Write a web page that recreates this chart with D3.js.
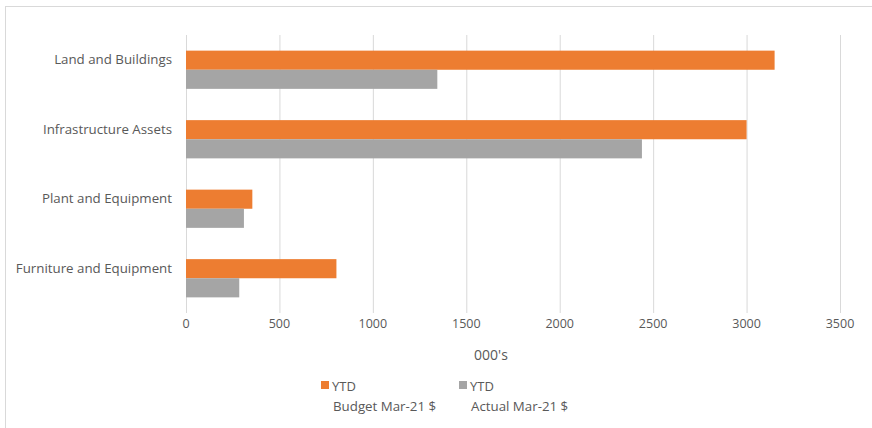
<!DOCTYPE html>
<html>
<head>
<meta charset="utf-8">
<script src="https://cdn.jsdelivr.net/npm/d3@7"></script>
<style>
  body { margin: 0; background: #fff; }
  svg text { font-family: "Open Sans", "Liberation Sans", sans-serif; fill: #595959; }
</style>
</head>
<body>
<svg id="chart" width="872" height="428"></svg>
<script>
const categories = ['Land and Buildings', 'Infrastructure Assets', 'Plant and Equipment', 'Furniture and Equipment'];
const budget = [3150, 3000, 355, 805];
const actual = [1345, 2440, 310, 285];
const ticks = [0, 500, 1000, 1500, 2000, 2500, 3000, 3500];
const seriesNames = [['YTD', 'Budget Mar-21 $'], ['YTD', 'Actual Mar-21 $']];
const colours = ['#ED7D31', '#A5A5A5'];

const svg = d3.select('#chart');

// chart border
svg.append('rect')
  .attr('x', 5.5).attr('y', 6.5)
  .attr('width', 880).attr('height', 430)
  .attr('fill', 'none')
  .attr('stroke', '#d9d9d9');

const margin = { left: 186, right: 32, top: 35, bottom: 115 };
const height = 428 - margin.top - margin.bottom;

const x = d3.scaleLinear().domain([0, 3500]).range([0, 654]);
const y = d3.scaleBand().domain(categories).range([0, height]).paddingInner(0.45).paddingOuter(0.225);
const ySub = d3.scaleBand().domain([0, 1]).range([0, y.bandwidth()]);

const g = svg.append('g').attr('transform', `translate(${margin.left},${margin.top})`);

// gridlines
g.append('g')
  .selectAll('line')
  .data(ticks)
  .join('line')
  .attr('x1', (d) => x(d) + 0.5)
  .attr('x2', (d) => x(d) + 0.5)
  .attr('y1', 0)
  .attr('y2', height)
  .attr('stroke', '#d9d9d9')
  .attr('stroke-width', 1);

// x tick labels
g.append('g')
  .selectAll('text')
  .data(ticks)
  .join('text')
  .attr('x', (d) => x(d))
  .attr('y', height + 15)
  .attr('text-anchor', 'middle')
  .attr('font-size', 12.5)
  .text((d) => d);

// category labels (sit a little above the bar pair centre, like the original)
g.append('g')
  .selectAll('text')
  .data(categories)
  .join('text')
  .attr('x', -14)
  .attr('y', (d) => y(d) + y.bandwidth() / 2 - 10)
  .attr('dy', '0.35em')
  .attr('text-anchor', 'end')
  .attr('font-size', 13.3)
  .text((d) => d);

// bars
const rows = categories.map((c, i) => ({ cat: c, values: [budget[i], actual[i]] }));
const groups = g.append('g')
  .selectAll('g')
  .data(rows)
  .join('g')
  .attr('transform', (d) => `translate(0,${y(d.cat)})`);

groups.selectAll('rect')
  .data((d) => d.values.map((v, k) => ({ v, k })))
  .join('rect')
  .attr('x', 0)
  .attr('y', (d) => ySub(d.k))
  .attr('width', (d) => x(d.v))
  .attr('height', ySub.bandwidth())
  .attr('fill', (d) => colours[d.k]);

// axis title
svg.append('text')
  .attr('x', 491)
  .attr('y', 360)
  .attr('text-anchor', 'middle')
  .attr('font-size', 14)
  .text("000's");

// legend
const legendX = [321, 459];
seriesNames.forEach((lines, i) => {
  const lg = svg.append('g').attr('transform', `translate(${legendX[i]},381)`);
  lg.append('rect')
    .attr('x', 0).attr('y', 0)
    .attr('width', 8).attr('height', 8)
    .attr('fill', colours[i]);
  lg.append('text')
    .attr('x', 11).attr('y', 10)
    .attr('font-size', 13)
    .text(lines[0]);
  lg.append('text')
    .attr('x', 12).attr('y', 30)
    .attr('font-size', 13.3)
    .text(lines[1]);
});
</script>
</body>
</html>
